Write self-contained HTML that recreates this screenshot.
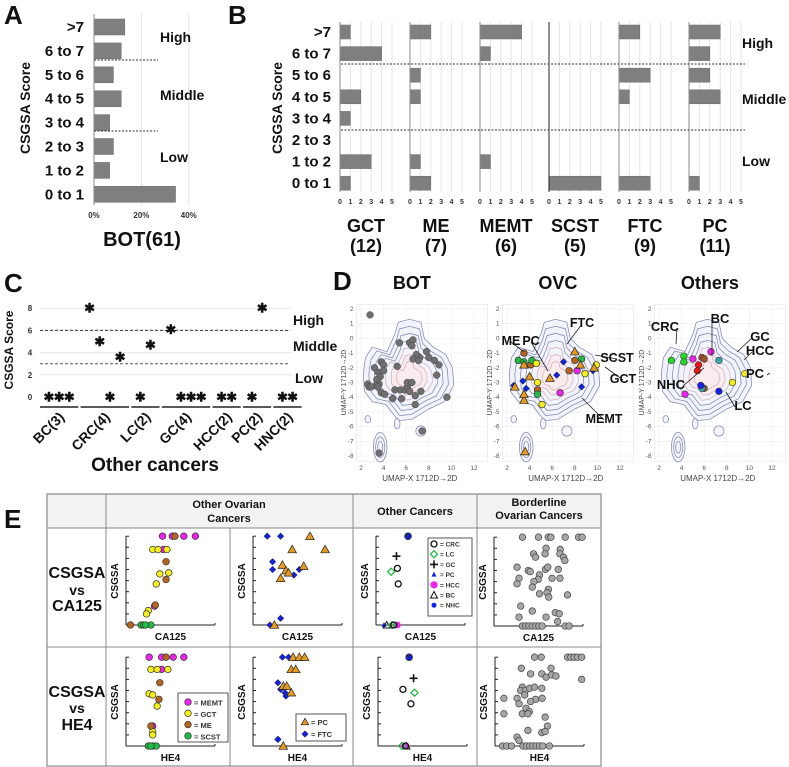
<!DOCTYPE html>
<html><head><meta charset="utf-8"><style>
html,body{margin:0;padding:0;background:#fff;}
svg{display:block;font-family:"Liberation Sans",Arial,sans-serif;}
</style></head><body>
<svg id="fig" width="789" height="767" viewBox="0 0 789 767" xmlns="http://www.w3.org/2000/svg"></svg>
<script>
// ---------- DATA ----------
const scoreBins = [">7","6 to 7","5 to 6","4 to 5","3 to 4","2 to 3","1 to 2","0 to 1"];
const botPercent = [13,11.5,8.2,11.5,6.6,8.2,6.6,34.4];
const botTicks = ["0%","20%","40%"];
const botTickVals = [0,20,40];
const typeNames = ["GCT","ME","MEMT","SCST","FTC","PC"];
const typeCounts = ["(12)","(7)","(6)","(5)","(9)","(11)"];
const gctCounts = [1,4,0,2,1,0,3,1];
const meCounts = [2,0,1,1,0,0,1,2];
const memtCounts = [4,1,0,0,0,0,1,0];
const scstCounts = [0,0,0,0,0,0,0,5];
const ftcCounts = [2,0,3,1,0,0,0,3];
const pcCounts = [3,2,2,3,0,0,0,1];
const bTicks = [0,1,2,3,4,5];

const otherGroups = ["BC(3)","CRC(4)","LC(2)","GC(4)","HCC(2)","PC(2)","HNC(2)"];
const groupSlots = [[0,2],[4,7],[9,10],[12,15],[17,18],[20,21],[23,24]];
const otherSlot = [0,1,2,4,5,6,7,9,10,12,13,14,15,17,18,20,21,23,24];
const otherScore = [0,0,0,8,5,0,3.6,0,4.7,6.1,0,0,0,0,0,0,8,0,0];
const cTicks = [0,2,4,6,8];

const botUmapX = [2.8,5.4,6.3,6.6,6.5,7.2,7.8,6.9,6.6,7.1,8,8.5,8.9,8.7,3.8,4.0,3.5,4.0,3.7,3.4,3.6,3.3,2.6,2.7,2.9,3.5,3.8,4.1,4.8,5.6,5.0,5.5,5.9,6.1,6.1,6.5,6.3,6.8,7.3,6.8,9.6,7.4,3.6,5.2,3.2];
const botUmapY = [1.6,-0.3,-0.3,-0.1,-0.5,-1.3,-0.9,-1.1,-1.4,-1.5,-1.3,-1.5,-1.8,-2.5,-1.6,-1.8,-2.3,-2.2,-2.6,-2.8,-3.1,-3.2,-3.1,-3.3,-3.3,-3.3,-3.7,-3.8,-4.1,-4.1,-3.5,-3.5,-3.5,-3.3,-3.0,-3.0,-3.6,-3.9,-3.6,-4.5,-4.0,-6.3,-7.8,-1.9,-2.0];
const ovcUmapX = [6.7,8.2,3.5,4.1,8.0,7.5,4.7,3.0,3.5,4.2,4.7,8.6,4.6,4.7,5.1,8.9,9.9,7.0,6.4,3.4,2.6,3.7,8.6,9.6,3.5,4.0,2.7,3.5,3.5,8.0,8.5,9.7,5.8,3.6];
const ovcUmapY = [-3.7,-2.2,-1.0,-1.8,-1.5,-2.2,-3.5,-1.5,-1.6,-1.5,-3.8,-1.4,-1.7,-3.0,-4.5,-2.4,-1.8,-1.6,-2.5,-2.9,-3.2,-3.4,-3.3,-2.2,-1.8,-2.6,-3.3,-4.2,-3.8,-0.9,-1.8,-2.0,-2.7,-7.7];
const ovcType = ["MEMT","MEMT","ME","ME","ME","ME","ME","SCST","SCST","SCST","SCST","SCST","GCT","GCT","GCT","GCT","GCT","FTC","FTC","FTC","FTC","FTC","FTC","FTC","PC","PC","PC","PC","PC","PC","PC","PC","PC","PC"];
const othUmapX = [3.1,4.2,4.2,5.0,6.6,4.3,5.5,5.4,5.8,6.0,6.0,7.3,5.8,5.7,7.3,8.5,9.6];
const othUmapY = [-1.5,-1.2,-1.6,-1.4,-0.9,-3.8,-1.8,-2.2,-1.3,-1.4,-3.4,-1.5,-3.4,-3.2,-3.6,-3.0,-2.4];
const othColor = ["#22dd22","#22dd22","#22dd22","#ee22ee","#ee22ee","#ee22ee","#ee1111","#ee1111","#a0522d","#a0522d","#a0522d","#33aaaa","#33aaaa","#1122ee","#1122ee","#f5f01a","#f5f01a"];
const umapXTicks = [2,4,6,8,10,12];
const umapYTicks = [2,1,0,-1,-2,-3,-4,-5,-6,-7,-8];

// Panel E
const e1Type = ["MEMT","MEMT","MEMT","MEMT","MEMT","MEMT","GCT","GCT","GCT","GCT","GCT","GCT","GCT","GCT","ME","ME","ME","ME","ME","SCST","SCST","SCST","SCST"];
const e1CA = [41,52,65,78,42,32,30,36,46,38,48,34,25,23,55,45,45,33,5,17,20,28,22];
const e1Score = [8,8,8,8,6.8,1.7,6.8,6.8,6.8,4.6,4.7,3.7,1.3,1.0,8,5.7,4.1,1.8,0,0,0,0,0];
const e1HE = [26,40,53,65,40,30,28,35,47,26,30,35,30,30,45,38,37,28,28,25,30,34,28];
const e1HEScore = [8,8,8,8,6.9,1.8,6.9,6.9,6.9,4.7,4.6,3.6,1.3,1.0,8,5.7,4.2,1.8,0,0,0,0,0];
const e2Type = ["FTC","FTC","FTC","FTC","FTC","FTC","FTC","FTC","PC","PC","PC","PC","PC","PC","PC","PC","PC"];
const e2CA = [16,31,22,22,46,52,31,19,64,44,81,33,37,40,31,57,24];
const e2Score = [8,8,5.7,5.0,4.5,5.0,0.6,0,8,6.8,6.8,5.4,4.9,4.7,4.2,5.3,0];
const e2HE = [33,40,28,31,36,37,28,28,45,52,58,43,48,34,38,43,34];
const e2HEScore = [8,8,5.7,5.1,4.8,4.5,0.6,0.6,8,8,8,6.9,6.9,5.4,5.4,4.8,0];
const e3Type = ["NHC","GC","CRC","CRC","LC","PC","BC","HCC","LC","CRC"];
const e3CA = [36,23,24,25,17,9,12,24,18,20];
const e3Score = [8,6.2,5.1,3.7,4.8,0,0,0,0,0];
const e3HE = [35,40,28,37,41,30,32,30,27,31];
const e3HEScore = [8,6.1,5.1,3.8,4.8,0,0,0,0,0];
const e4CA = [32,50,61,64,80,95,99,58.5,44.4,46.7,57.4,74.4,74.1,78.1,79.6,25.9,38.5,40.7,57.8,60.4,72.2,51.1,28.1,49.6,44.8,65.2,74.1,25.9,43,61.1,59.6,51.1,61.5,82.6,30,43,28.1,58.5,68.9,73.3,71.5,31.9,35.6,39.3,43,46.7,50.4,54.1,80,84.4];
const e4Score = [8,8,8,8,8,8,8,7.0,6.5,6.2,6.5,6.9,6.5,6.2,5.9,5.3,5.0,4.9,5.1,5.3,5.1,4.6,4.3,4.2,4.0,4.3,4.3,3.8,3.5,3.3,3.0,2.9,2.6,2.8,1.8,1.35,0.8,0.8,1.2,1.1,0.4,0,0,0,0,0,0,0,0,0];
const e4HE = [44.4,51.9,81.5,85.2,88.9,92.6,97.4,29.6,40,52.6,63,57.4,63.7,68.5,97.4,30.7,28.9,34.1,38.9,44.4,52.6,10,24.8,33.3,45.6,53,40,27,34.8,38.5,30.7,37,10,56.3,58.9,37,52.6,56.3,24.8,27,8.5,13,18.5,31.5,35.2,38.9,42.6,46.3,50,53.7,61.1];
const e4HEScore = [8,8,8,8,8,8,8,7.0,6.5,6.5,7.0,6.2,6.4,6.3,6.0,5.3,5.0,5.0,5.2,5.3,5.2,4.3,4.3,4.6,4.2,4.3,4.0,3.8,3.4,3.1,2.9,2.9,2.9,2.6,1.8,1.4,1.2,1.3,0.8,0.5,0,0,0,0,0,0,0,0,0,0,0];

// ---------- HELPERS ----------
const svg = document.getElementById('fig');
const NS = 'http://www.w3.org/2000/svg';
function mk(tag, attrs, parent){
  const e = document.createElementNS(NS, tag);
  for (const k in attrs) e.setAttribute(k, attrs[k]);
  (parent||svg).appendChild(e);
  return e;
}
function txt(x,y,s,size,opts,parent){
  opts = opts||{};
  const t = mk('text',{x:x,y:y,'font-size':size,'font-weight':opts.w||'bold','text-anchor':opts.a||'start',fill:opts.f||'#111'},parent);
  if (opts.rot) t.setAttribute('transform','rotate('+opts.rot+' '+x+' '+y+')');
  t.textContent = s;
  return t;
}
function line(x1,y1,x2,y2,st,w,dash,parent){
  const l = mk('line',{x1:x1,y1:y1,x2:x2,y2:y2,stroke:st,'stroke-width':w||1},parent);
  if (dash) l.setAttribute('stroke-dasharray',dash);
  return l;
}
function group(name){
  const g = mk('g',{});
  
  
  return g;
}

[["A",4,24],["B",228,24],["C",4,292],["D",333,290],["E",4,528]].forEach(p=>{
  const t = txt(p[1],p[2],p[0],26,{});
  
  
});

// ---------- PANEL A ----------
(function(){
  const g = group('panel-a-bot-histogram');
  const xA = v => 94 + v*2.37;
  const yA = i => 27 + i*23.9;
  botTickVals.forEach((v,i)=>{
    if (v>0) line(xA(v),14,xA(v),205,'#e4e4e4',1,null,g);
    const t = txt(xA(v),218,botTicks[i],8,{a:'middle',f:'#333'},g);
    
    
  });
  scoreBins.forEach((b,i)=>{
    const t = txt(84,yA(i)+5,b,15,{a:'end'},g);
    
    
    const r = mk('rect',{x:xA(0),y:yA(i)-8,width:xA(botPercent[i])-xA(0),height:16,fill:'#7f7f7f',stroke:'#6a6a6a','stroke-width':0.5},g);
    
    
  });
  line(94,14,94,205,'#888',1,null,g);
  line(94,60,158,60,'#333',1,'2,1.5',g);
  line(94,131,158,131,'#333',1,'2,1.5',g);
  txt(160,42,'High',14,{},g);
  txt(160,100,'Middle',14,{},g);
  txt(160,162,'Low',14,{},g);
  const yt = txt(30,108,'CSGSA Score',14,{a:'middle',rot:-90},g);
  
  
  const xt = txt(142,246,'BOT(61)',20,{a:'middle'},g);
  
  
})();

// ---------- PANEL B ----------
(function(){
  const g = group('panel-b-ovc-histograms');
  const x0s = [340,410,480,549,619,689];
  const series = [gctCounts,meCounts,memtCounts,scstCounts,ftcCounts,pcCounts];
  const yB = i => 32 + i*21.6;
  scoreBins.forEach((b,i)=>{
    const t = txt(331,yB(i)+5,b,15,{a:'end'},g);
    
    
  });
  series.forEach((vals,k)=>{
    const xB = v => x0s[k] + v*10.4;
    bTicks.forEach(v=>{
      if (v>0) line(xB(v),22,xB(v),192,'#e4e4e4',1,null,g);
      const t = txt(xB(v),204,String(v),7,{a:'middle',f:'#333'},g);
      
      
    });
    vals.forEach((v,i)=>{
      if (v<=0) return;
      const r = mk('rect',{x:xB(0),y:yB(i)-7,width:xB(v)-xB(0),height:14,fill:'#7f7f7f',stroke:'#6a6a6a','stroke-width':0.5},g);
      
      
    });
    line(x0s[k],22,x0s[k],192,k===3?'#222':'#888',1,null,g);
    const c = x0s[k]+26;
    const t1 = txt(c,232,typeNames[k],18,{a:'middle'},g);
    
    
    txt(c,252,typeCounts[k],18,{a:'middle'},g);
  });
  line(341,64,745,64,'#333',1,'2,1.5',g);
  line(341,130,745,130,'#333',1,'2,1.5',g);
  txt(742,48,'High',14,{},g);
  txt(742,104,'Middle',14,{},g);
  txt(742,166,'Low',14,{},g);
  const yt = txt(282,108,'CSGSA Score',14,{a:'middle',rot:-90},g);
  
  
})();

// ---------- PANEL C ----------
(function(){
  const g = group('panel-c-other-cancers');
  const yC = s => 397 - s*11.1;
  const xC = slot => 49 + slot*10.15;
  cTicks.forEach(v=>{
    if (v>0) line(40,yC(v),292,yC(v),'#e6e6e6',1,null,g);
    const t = txt(30,yC(v)+3,String(v),8,{a:'middle',f:'#333'},g);
    
    
  });
  line(40,yC(6),288,yC(6),'#333',1,'3,2',g);
  line(40,yC(3),288,yC(3),'#555',1,'3,2',g);
  txt(293,325,'High',14,{},g);
  txt(293,351,'Middle',14,{},g);
  txt(295,383,'Low',14,{},g);
  otherSlot.forEach((s,i)=>{
    const t = txt(xC(s),yC(otherScore[i])+4.5,'✱',13,{a:'middle'},g);
    
    
  });
  otherGroups.forEach((name,i)=>{
    const a = xC(groupSlots[i][0])-9, b = xC(groupSlots[i][1])+9;
    line(a,407,b,407,'#222',1.5,null,g);
    const cx = (a+b)/2+6;
    const t = txt(cx,418,name,14,{a:'end',rot:-45},g);
    
    
  });
  const yt = txt(13,350,'CSGSA Score',12,{a:'middle',rot:-90},g);
  
  
  const xt = txt(155,471,'Other cancers',19,{a:'middle'},g);
  
  
})();

// ---------- PANEL D ----------
const blobX = [2.4,3.0,4.3,5.0,5.3,6.3,7.3,7.6,8.4,9.5,10.1,10.2,9.4,8.0,6.5,5.3,4.7,4.2,3.0,2.3,2.2];
const blobY = [-1.3,-0.6,-0.9,0.3,1.1,1.3,1.1,0.0,-0.6,-1.1,-2.0,-3.2,-4.3,-4.8,-5.5,-5.6,-5.0,-4.5,-4.3,-3.6,-2.4];
function umapPlot(idx, title){
  const x0 = [361,507,659][idx];
  const g = group('d-umap-'+title.toLowerCase());
  const xD = x => x0 + (x-2)*11.3;
  const yD = y => 309 + (2-y)*14.7;
  mk('rect',{x:xD(1.6),y:yD(2.3),width:xD(13.2)-xD(1.6),height:yD(-8.35)-yD(2.3),fill:'#fff',stroke:'#e4e4e4','stroke-width':0.6},g);
  umapXTicks.forEach(v=>{ line(xD(v),yD(2.3),xD(v),yD(-8.35),'#eee',0.6,null,g); txt(xD(v),yD(-8.35)+9,String(v),6.5,{a:'middle',w:'normal',f:'#555'},g);});
  umapYTicks.forEach(v=>{ line(xD(1.6),yD(v),xD(13.2),yD(v),'#eee',0.6,null,g); txt(xD(1.6)-3,yD(v)+2,String(v),6.5,{a:'end',w:'normal',f:'#555'},g);});
  const cx=6.3, cy=-2.7;
  [1,0.88,0.76,0.64,0.52,0.4,0.28].forEach((s,j)=>{
    let d='';
    blobX.forEach((bx,i)=>{ d += (i?'L':'M') + xD(cx+(bx-cx)*s).toFixed(1)+','+yD(cy+(blobY[i]-cy)*s).toFixed(1); });
    const fill = j===0 ? '#f1f4fb' : (j>=5 ? '#f9ecee' : 'none');
    mk('path',{d:d+'Z',fill:fill,stroke:j>=4?'#d8a8b8':'#7d82b0','stroke-width':0.7,'stroke-linejoin':'round'},g);
  });
  [[3.7,-7.4,0.6,1.0],[3.7,-7.4,0.4,0.7],[3.7,-7.4,0.22,0.4],[7.3,-6.3,0.45,0.35],[2.6,-5.5,0.25,0.25],[5.2,-5.8,0.25,0.35]].forEach(e=>{
    mk('ellipse',{cx:xD(e[0]),cy:yD(e[1]),rx:e[2]*11.3,ry:e[3]*14.7,fill:'#f3f5fb',stroke:'#7d82b0','stroke-width':0.7},g);
  });
  const tt = txt(xD(6.5),289,title,18,{a:'middle'},g);
  
  
  txt(xD(7.2),yD(-8.35)+20,'UMAP-X  1712D→2D',8,{a:'middle',w:'normal',f:'#444'},g);
  txt(x0-15,yD(-3),'UMAP-Y  1712D→2D',7,{a:'middle',w:'normal',f:'#444',rot:-90},g);
  return {g:g,xD:xD,yD:yD};
}
const typeColor = {MEMT:'#ee22ee',GCT:'#f5f01a',ME:'#b5651d',SCST:'#22bb44',FTC:'#1122dd',PC:'#e69a1f',NHC:'#1122dd',GC:'#111',CRC:'#111',LC:'#22bb44',BC:'#111',HCC:'#ee22ee'};
function marker(g,type,x,y,r){
  let e;
  if (type==='PC'){
    e = mk('path',{d:`M${x},${y-r-1}L${x+r+1},${y+r}L${x-r-1},${y+r}Z`,fill:typeColor.PC,stroke:'#222','stroke-width':0.7},g);
  } else if (type==='FTC'){
    e = mk('path',{d:`M${x},${y-r}L${x+r},${y}L${x},${y+r}L${x-r},${y}Z`,fill:typeColor.FTC,stroke:'#222','stroke-width':0.5},g);
  } else {
    e = mk('circle',{cx:x,cy:y,r:r,fill:typeColor[type]||'#aaa',stroke:'#333','stroke-width':0.7},g);
  }
  return e;
}
(function(){
  const p = umapPlot(0,'BOT');
  botUmapX.forEach((x,i)=>{
    const c = mk('circle',{cx:p.xD(x),cy:p.yD(botUmapY[i]),r:3.4,fill:'#6f6f6f',stroke:'#444','stroke-width':0.5},p.g);
    
    
  });
})();
(function(){
  const p = umapPlot(1,'OVC');
  ovcUmapX.forEach((x,i)=>{
    const m = marker(p.g,ovcType[i],p.xD(x),p.yD(ovcUmapY[i]),3.3);
    
    
  });
  [['ME',511,340,524,352],['PC',531,340,548,371],['FTC',582,322,567,344],['SCST',617,357,595,355],['GCT',623,378,605,367],['MEMT',604,418,582,398]].forEach(a=>{
    line(a[1],a[2]+2,a[3],a[4],'#222',0.8,null,p.g);
    const t = txt(a[1],a[2]+5,a[0],12.5,{a:'middle'},p.g);
    t.setAttribute('stroke','#fff'); t.setAttribute('stroke-width','0'); 
  });
})();
(function(){
  const p = umapPlot(2,'Others');
  othUmapX.forEach((x,i)=>{
    const c = mk('circle',{cx:p.xD(x),cy:p.yD(othUmapY[i]),r:3.3,fill:othColor[i],stroke:'#333','stroke-width':0.6},p.g);
    
    
  });
  [['CRC',665,326,676,344],['BC',720,318,712,356],['GC',760,336,737,352],['HCC',760,350,744,360],['NHC',671,384,704,368],['PC',755,373,770,373],['LC',743,405,726,392]].forEach(a=>{
    line(a[1]+(a[3]>a[1]?12:-8),a[2]+2,a[3],a[4],'#222',0.8,null,p.g);
    txt(a[1],a[2]+5,a[0],13,{a:'middle'},p.g);
  });
})();

// ---------- PANEL E ----------
(function(){
  const g = group('panel-e-table');
  mk('rect',{x:47,y:494,width:554,height:34,fill:'#f2f2f2'},g);
  mk('rect',{x:47,y:494,width:554,height:272,fill:'none',stroke:'#8a8a8a','stroke-width':1.2},g);
  [106,477].forEach(x=>line(x,494,x,766,'#8a8a8a',1,null,g));
  line(353,494,353,766,'#8a8a8a',1,null,g);
  line(230,528,230,766,'#8a8a8a',1,null,g);
  line(47,528,601,528,'#8a8a8a',1,null,g);
  line(47,647,601,647,'#8a8a8a',1,null,g);
  txt(229,508,'Other Ovarian',11,{a:'middle'},g);
  txt(229,522,'Cancers',11,{a:'middle'},g);
  txt(415,515,'Other Cancers',11,{a:'middle'},g);
  txt(539,506,'Borderline',11,{a:'middle'},g);
  txt(539,519,'Ovarian Cancers',11,{a:'middle'},g);
  [['CSGSA',578],['vs',595],['CA125',611],['CSGSA',697],['vs',713],['HE4',730]].forEach(r=>{
    const t = txt(77,r[1],r[0],r[0]==='vs'?14:16,{a:'middle'},g);
    
    
  });
})();
function scatterCell(left, top, xlab, xs, ys, types, name){
  const g = group(name);
  const bottom = top+89, right = left+89;
  const xE = v => left + v*0.89;
  const yE = s => bottom - s*11.1;
  line(left,top,left,bottom,'#222',1,null,g);
  line(left,bottom,right,bottom,'#222',1,null,g);
  line(right,bottom,right,bottom-2,'#222',1,null,g);
  for (let s=0;s<=8;s++) line(left,yE(s),left+3,yE(s),'#222',1,null,g);
  txt(left+(right-left)/2,bottom+15,xlab,10,{a:'middle'},g);
  txt(left-8,top+45,'CSGSA',10,{a:'middle',rot:-90},g);
  xs.forEach((x,i)=>{
    const t = types ? types[i] : 'BOT';
    const px = xE(x), py = yE(ys[i]);
    let m;
    if (t==='BOT') m = mk('circle',{cx:px,cy:py,r:3.3,fill:'#a6a6a6',stroke:'#444','stroke-width':0.7},g);
    else if (t==='CRC') m = mk('circle',{cx:px,cy:py,r:3,fill:'none',stroke:'#111','stroke-width':1.3},g);
    else if (t==='LC') m = mk('path',{d:`M${px},${py-3.5}L${px+3.5},${py}L${px},${py+3.5}L${px-3.5},${py}Z`,fill:'none',stroke:'#22bb44','stroke-width':1.3},g);
    else if (t==='GC') m = mk('path',{d:`M${px-4},${py}H${px+4}M${px},${py-4}V${py+4}`,stroke:'#111','stroke-width':1.6},g);
    else if (t==='NHC') { mk('circle',{cx:px,cy:py,r:3.4,fill:'#1122dd',stroke:'#222','stroke-width':0.7},g); m = mk('circle',{cx:px-1,cy:py-1,r:1.3,fill:'#333'},g);}
    else if (t==='BC') m = mk('path',{d:`M${px},${py-3.5}L${px+3.5},${py+3}L${px-3.5},${py+3}Z`,fill:'none',stroke:'#111','stroke-width':1},g);
    else if (t==='HCC') m = mk('circle',{cx:px,cy:py,r:3.4,fill:'#ee22ee'},g);
    else if (t==='PC' && name.indexOf('other-cancers')>=0) m = mk('path',{d:`M${px},${py-3}L${px+2.5},${py+2}L${px-2.5},${py+2}Z`,fill:'#1122ee'},g);
    else m = marker(g,t,px,py,3.3);
    
    
  });
  return g;
}
scatterCell(126,536,'CA125',e1CA,e1Score,e1Type,'e-scatter-ovarian-subtypes-ca125');
scatterCell(253,536,'CA125',e2CA,e2Score,e2Type,'e-scatter-pc-ftc-ca125');
scatterCell(376,536,'CA125',e3CA,e3Score,e3Type,'e-scatter-other-cancers-ca125');
scatterCell(494,537,'CA125',e4CA,e4Score,null,'e-scatter-borderline-ca125');
scatterCell(126,657,'HE4',e1HE,e1HEScore,e1Type,'e-scatter-ovarian-subtypes-he4');
scatterCell(253,657,'HE4',e2HE,e2HEScore,e2Type,'e-scatter-pc-ftc-he4');
scatterCell(378,657,'HE4',e3HE,e3HEScore,e3Type,'e-scatter-other-cancers-he4');
scatterCell(495,657,'HE4',e4HE,e4HEScore,null,'e-scatter-borderline-he4');
(function(){
  const l1 = group('e-legend-ovarian-subtypes');
  mk('rect',{x:178,y:693,width:50,height:49,fill:'#fff',stroke:'#555','stroke-width':1},l1);
  ['MEMT','GCT','ME','SCST'].forEach((t,i)=>{
    marker(l1,t,188,702+i*11.3,3.3);
    txt(194,705.5+i*11.3,'= '+t,7.5,{f:'#333'},l1);
  });
  const l2 = group('e-legend-pc-ftc');
  mk('rect',{x:296,y:714,width:50,height:27,fill:'#fff',stroke:'#555','stroke-width':1},l2);
  marker(l2,'PC',305,722,2.8); txt(311,725,'= PC',7.5,{f:'#333'},l2);
  marker(l2,'FTC',305,734,3.3); txt(311,737,'= FTC',7.5,{f:'#333'},l2);
  const l3 = group('e-legend-other-cancers');
  mk('rect',{x:428,y:538,width:44,height:78,fill:'#fff',stroke:'#555','stroke-width':1},l3);
  const items = ['CRC','LC','GC','PC','HCC','BC','NHC'];
  items.forEach((t,i)=>{
    const y = 544+i*10.2, x=434;
    if (t==='CRC') mk('circle',{cx:x,cy:y,r:3,fill:'none',stroke:'#111','stroke-width':1.3},l3);
    if (t==='LC') mk('path',{d:`M${x},${y-3.5}L${x+3.5},${y}L${x},${y+3.5}L${x-3.5},${y}Z`,fill:'none',stroke:'#22bb44','stroke-width':1.3},l3);
    if (t==='GC') mk('path',{d:`M${x-4},${y}H${x+4}M${x},${y-4}V${y+4}`,stroke:'#111','stroke-width':1.6},l3);
    if (t==='PC') mk('path',{d:`M${x},${y-3}L${x+2.5},${y+2}L${x-2.5},${y+2}Z`,fill:'#1122ee'},l3);
    if (t==='HCC') mk('circle',{cx:x,cy:y,r:3.6,fill:'#ee22ee'},l3);
    if (t==='BC') mk('path',{d:`M${x},${y-3.5}L${x+3.5},${y+3}L${x-3.5},${y+3}Z`,fill:'none',stroke:'#111','stroke-width':1},l3);
    if (t==='NHC') mk('circle',{cx:x,cy:y,r:2.5,fill:'#1122ee'},l3);
    txt(440,y+2.5,'= '+t,6.5,{f:'#333'},l3);
  });
})();
</script>
</body></html>
